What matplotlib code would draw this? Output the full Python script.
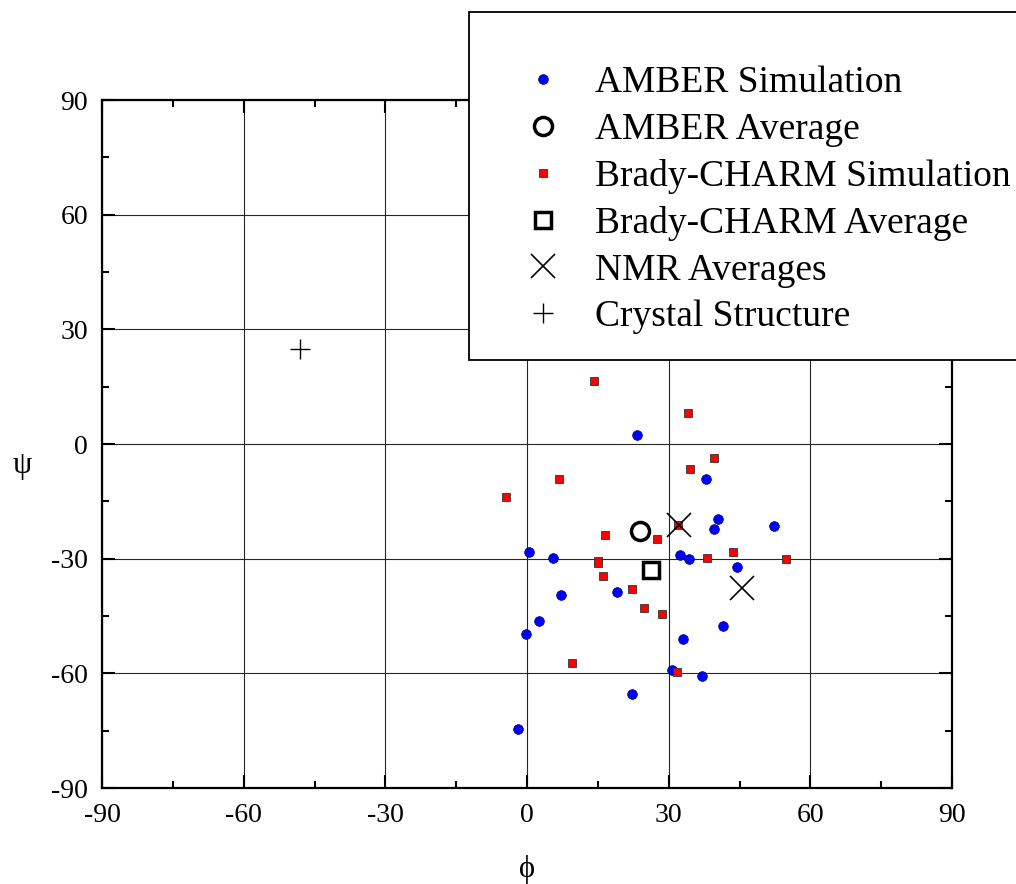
import numpy as np
import matplotlib
matplotlib.use("Agg")
import matplotlib.pyplot as plt
from matplotlib.patches import Rectangle
from matplotlib.ticker import MultipleLocator

plt.rcParams['font.family'] = ['Liberation Serif', 'DejaVu Serif']
plt.rcParams['axes.unicode_minus'] = False

# AMBER simulation (phi, psi)
amber_phi = [23.2, 38.0, 40.4, 39.5, 52.2, 0.4, 5.5, 32.4, 34.2, 44.5,
             19.1, 7.1, 2.5, -0.2, 41.5, 33.1, 30.7, 37.0, 22.3, -2.0]
amber_psi = [2.4, -9.2, -19.6, -22.3, -21.4, -28.2, -29.8, -29.1, -30.0, -32.2,
             -38.6, -39.6, -46.2, -49.6, -47.7, -50.9, -59.1, -60.7, -65.4, -74.6]

# Brady-CHARM simulation
brady_phi = [14.2, 34.1, 39.5, 34.6, 6.7, -4.4, 16.5, 27.6, 31.9, 43.7,
             54.9, 38.2, 15.0, 15.1, 16.1, 22.2, 24.8, 28.5, 9.6, 31.7]
brady_psi = [16.6, 8.0, -3.7, -6.6, -9.1, -13.8, -23.7, -24.9, -21.1, -28.2,
             -30.0, -29.9, -30.5, -31.2, -34.5, -38.0, -43.0, -44.5, -57.4, -59.7]

amber_avg = (24.0, -22.8)
brady_avg = (26.2, -33.0)
nmr_phi = [32.1, 45.5]
nmr_psi = [-21.1, -37.8]
crystal = (-48.0, 24.8)

ticks = [-90, -60, -30, 0, 30, 60, 90]

fig = plt.figure(figsize=(10.16, 8.84), dpi=100)
ax = fig.add_axes([102/1016, 1-788/884, 850/1016, 688/884])

ax.grid(True, which='major', color='0.15', lw=0.8, zorder=0)
ax.set_axisbelow(True)

h1, = ax.plot(amber_phi, amber_psi, 'o', ms=7, mfc='#0000ff', mec='#000080', mew=0.5,
              ls='none', label='AMBER Simulation', zorder=3)
h2, = ax.plot([amber_avg[0]], [amber_avg[1]], 'o', ms=13, mfc='none', mec='black', mew=2.5,
              ls='none', label='AMBER Average', zorder=4)
h3, = ax.plot(brady_phi, brady_psi, 's', ms=5.8, mfc='#ff0000', mec='#333333', mew=0.6,
              ls='none', label='Brady-CHARM Simulation', zorder=3)
h4, = ax.plot([brady_avg[0]], [brady_avg[1]], 's', ms=12, mfc='none', mec='black', mew=2.5,
              ls='none', label='Brady-CHARM Average', zorder=4)
h5, = ax.plot(nmr_phi, nmr_psi, 'x', ms=17, mec='black', mew=1.2,
              ls='none', label='NMR Averages', zorder=5)
h6, = ax.plot([crystal[0]], [crystal[1]], '+', ms=15, mec='black', mew=1.0,
              ls='none', label='Crystal Structure', zorder=5)

ax.set_xlim(-90, 90)
ax.set_ylim(-90, 90)
ax.set_xticks(ticks)
ax.set_yticks(ticks)
ax.xaxis.set_minor_locator(MultipleLocator(15))
ax.yaxis.set_minor_locator(MultipleLocator(15))
ax.tick_params(which='both', direction='in', top=True, right=True, labelsize=20, color='black')
ax.tick_params(which='major', length=9.5, width=1.5)
ax.tick_params(which='minor', length=5, width=1.5)
ax.tick_params(axis='x', pad=11)
ax.tick_params(axis='y', pad=10)
for s in ax.spines.values():
    s.set_linewidth(1.6)

fig.text(527/1016, 1-870/884, 'ϕ', fontsize=22, ha='center', va='center')
fig.text(22/1016, 1-465/884, 'ψ', fontsize=22, ha='center', va='center')

# legend box, cut off at the right edge
box = Rectangle((469/1016, 1-360/884), 0.6, 348/884, transform=fig.transFigure,
                facecolor='white', edgecolor='black', lw=1.3, zorder=5)
fig.patches.append(box)

leg = fig.legend(handles=[h1, h2, h3, h4, h5, h6], loc='upper left',
                 bbox_to_anchor=(520/1016, 1-66/884), frameon=False, fontsize=27,
                 handlelength=1.2, handletextpad=0.8, labelspacing=0.32,
                 borderpad=0, borderaxespad=0, markerscale=1.0)
leg.set_zorder(6)

fig.savefig('out.png', dpi=100)
